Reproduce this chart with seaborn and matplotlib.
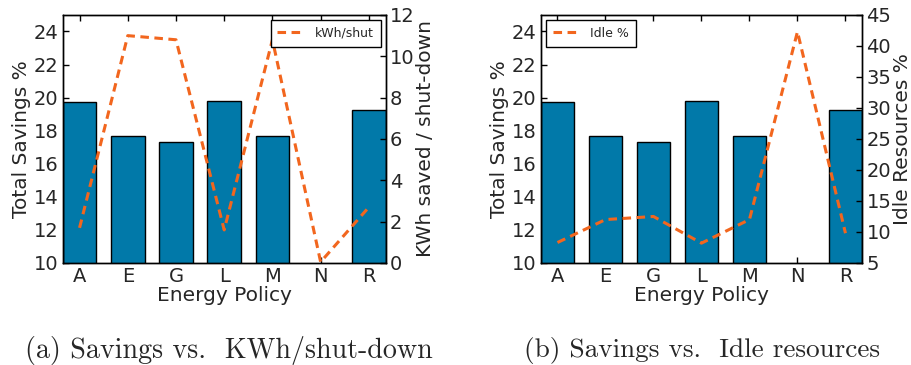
import numpy as np
import pandas as pd
import matplotlib
matplotlib.use("Agg")
import matplotlib.pyplot as plt
import seaborn as sns

categories = ["A", "E", "G", "L", "M", "N", "R"]
savings = [19.75, 17.65, 17.3, 19.8, 17.65, np.nan, 19.25]
kwh_per_shut = [1.7, 11.0, 10.8, 1.6, 10.8, 0.05, 2.7]
idle_pct = [8.3, 12.0, 12.5, 8.2, 12.0, 42.3, 9.8]
captions = ["(a) Savings vs.  KWh/shut-down", "(b) Savings vs.  Idle resources"]

BLUE = "#0179A9"
ORANGE = "#F2661E"

sns.set_style("ticks")
plt.rcParams["font.family"] = ["DejaVu Sans"]

fig = plt.figure(figsize=(9.11, 3.65), dpi=100)
ax_pos = [[0.0688, 0.2795, 0.3546, 0.6795], [0.5935, 0.2795, 0.3530, 0.6795]]

df = pd.DataFrame({"policy": categories, "savings": savings,
                   "kwh": kwh_per_shut, "idle": idle_pct})

panels = [
    ("kwh", "kWh/shut", "KWh saved / shut-down", (0, 12), np.arange(0, 13, 2), "upper right"),
    ("idle", "Idle %", "Idle Resources %", (5, 45), np.arange(5, 46, 5), "upper left"),
]

for i, (col, leg, ylab2, ylim2, ticks2, loc) in enumerate(panels):
    ax = fig.add_axes(ax_pos[i])
    sns.barplot(data=df, x="policy", y="savings", ax=ax, color=BLUE,
                width=0.7, edgecolor="black", linewidth=1, saturation=1)
    ax.set_ylim(10, 25)
    ax.set_yticks(np.arange(10, 25, 2))
    ax.set_xlim(-0.35, 6.35)
    ax.set_xlabel("Energy Policy", fontsize=14.5, labelpad=0)
    ax.set_ylabel("Total Savings %", fontsize=14.5, labelpad=2)
    ax.tick_params(axis="both", direction="in", labelsize=14, top=True,
                   length=4, width=1, color="black", pad=3)
    ax.tick_params(axis="y", right=False)
    for s in ax.spines.values():
        s.set_visible(True)
        s.set_color("black")
        s.set_linewidth(1)

    ax2 = ax.twinx()
    sns.lineplot(data=df, x="policy", y=col, ax=ax2, color=ORANGE,
                 linestyle=(0, (2.8, 1.8)), linewidth=2.2, label=leg, sort=False)
    ax2.set_ylim(*ylim2)
    ax2.set_yticks(ticks2)
    ax2.set_ylabel(ylab2, fontsize=14.5, labelpad=1)
    ax2.tick_params(axis="y", direction="in", labelsize=14, length=4,
                    width=1, color="black", pad=3)
    ax2.set_xlim(-0.35, 6.35)
    lg = ax2.legend(loc=loc, fontsize=9, frameon=True, fancybox=False,
                    edgecolor="black", framealpha=1, handlelength=2.2,
                    borderpad=0.55, borderaxespad=0.4)
    lg.get_frame().set_linewidth(1)
    for s in ax2.spines.values():
        s.set_color("black")
        s.set_linewidth(1)

fig.text(0.2514, 0.040, captions[0], ha="center", va="center",
         fontsize=20.2, family="cmr10")
fig.text(0.7705, 0.040, captions[1], ha="center", va="center",
         fontsize=19.6, family="cmr10")

fig.savefig("out.png", dpi=100)
